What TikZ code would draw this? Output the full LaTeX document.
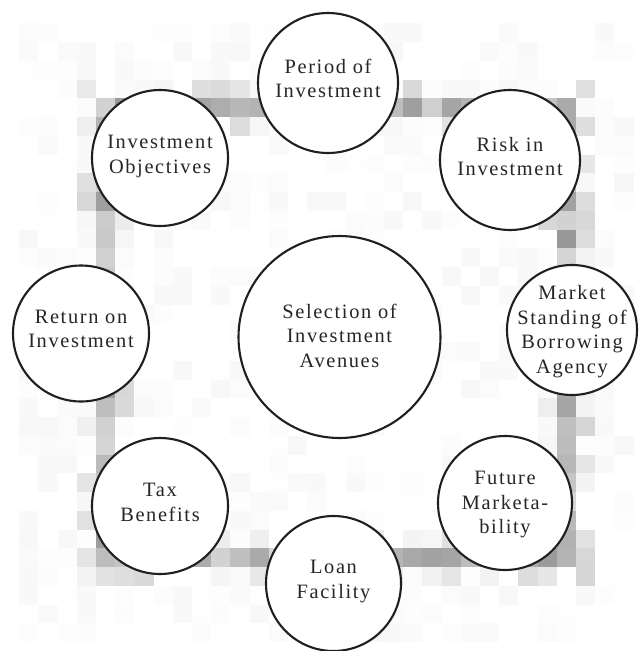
\documentclass[tikz,border=0pt]{standalone}
\usepackage{fontspec}
\setmainfont{Liberation Serif}[LetterSpace=8]
\begin{document}
\begin{tikzpicture}[x=1pt,y=-1pt,
  bubble/.style={circle,draw=black!88,line width=2.1pt,fill=white,inner sep=0pt},
  caption/.style={align=center,text=black!85,inner sep=0pt,
    font=\fontsize{20.4}{24.5}\selectfont}]
\useasboundingbox (0,0) rectangle (639,651);
\fill[white] (0,0) rectangle (639,651);
% mosaic backdrop: faint tiles everywhere, darker tiles along the ring
\pgfmathsetseed{42}
\foreach \i in {1,...,32}{
  \foreach \j in {1,...,33}{
    \pgfmathsetmacro\px{19.2*\i+9.6}
    \pgfmathsetmacro\py{4.6+18.75*\j+9.4}
    \pgfmathsetmacro\dist{abs(max(abs(\px-336)-230.4,abs(\py-336.2)-228.6))}
    \pgfmathsetmacro\rr{rnd}
    \pgfmathsetmacro\gv{\dist<10 ? 16+24*\rr : (\dist<29 ? 16*\rr*\rr : (\rr<0.5 ? 6*\rr : 0))}
    \fill[black!\gv] (19.2*\i,4.6+18.75*\j) rectangle ++(19.5,19.05);
  }
}
% circles
\node[bubble,minimum size=202pt] (c0) at (339.5,337) {};
\node[bubble,minimum size=140pt] (c1) at (328,83) {};
\node[bubble,minimum size=140pt] (c2) at (510,160) {};
\node[bubble,minimum size=130pt] (c3) at (572,330) {};
\node[bubble,minimum size=134pt] (c4) at (505,503) {};
\node[bubble,minimum size=135pt] (c5) at (333.5,583.5) {};
\node[bubble,minimum size=136pt] (c6) at (160,506) {};
\node[bubble,minimum size=136pt] (c7) at (81,333.5) {};
\node[bubble,minimum size=136pt] (c8) at (160,158) {};
% captions
\node[caption] (t0) at (339.5,335.8) {Selection of\\Investment\\Avenues};
\node[caption] (t1) at (328,78.3) {Period of\\Investment};
\node[caption] (t2) at (510,156.3) {Risk in\\Investment};
\node[caption] (t3) at (572,331.5) {Market\\Standing of\\Borrowing\\Agency};
\node[caption] (t4) at (505,504.7) {Future\\Marketa-\\bility};
\node[caption] (t5) at (333.5,581.7) {Loan\\Facility};
\node[caption] (t6) at (160,502.5) {Tax\\Benefits};
\node[caption] (t7) at (81,329) {Return on\\Investment};
\node[caption] (t8) at (160,156.7) {Investment\\Objectives};
\end{tikzpicture}
\end{document}
